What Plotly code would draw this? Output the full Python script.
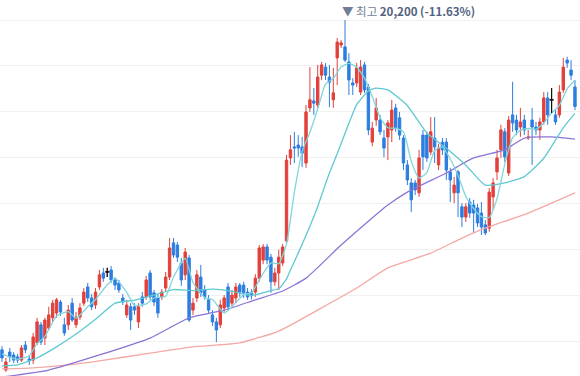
import plotly.graph_objects as go
import pandas as pd

# ---- data ----
day = list(range(1, 149))
open_ = [11230, 10680, 11170, 11090, 11040, 10950, 11360, 10980, 10950, 11420,
         11910, 11550, 11820, 12100, 12230, 12530, 11910, 11910, 12500, 11910,
         12120, 12500, 12940, 12640, 12450, 12940, 13320, 13350, 13400, 13130,
         13050, 12640, 12180, 12400, 12400, 11990, 12670, 12670, 13320, 12780,
         12640, 12670, 12910, 13210, 14140, 14080, 13590, 13270, 13730, 12310,
         12640, 13210, 12860, 12590, 12180, 11990, 11910, 12370, 12940, 12500,
         12640, 12990, 12990, 12800, 12780, 12800, 13180, 13670, 14030, 13750,
         13080, 13320, 13590, 14190, 16450, 16750, 16800, 16750, 16310, 17810,
         18000, 17890, 18700, 18920, 18650, 18030, 19170, 19520, 19470, 19060,
         18490, 18490, 18240, 18980, 18380, 16880, 17480, 17480, 16990, 17020,
         17210, 17810, 17540, 16990, 16260, 15770, 15770, 15500, 17070, 17070,
         16610, 16990, 16260, 16880, 16880, 16070, 15500, 16070, 15120, 14840,
         15250, 15170, 15090, 14950, 14630, 14540, 15390, 16070, 16670, 17160,
         16040, 17620, 17480, 17290, 17480, 16990, 17480, 17290, 17210, 17430,
         18080, 18030, 17620, 17620, 18300, 19110, 18840, 18380]
high = [11330, 11010, 11280, 11170, 11120, 11360, 11470, 11090, 11690, 12100,
        11990, 12100, 12400, 12590, 12640, 12590, 12100, 12450, 12640, 12260,
        12500, 12910, 13050, 12750, 12910, 13400, 13460, 13460, 13510, 13210,
        13130, 12750, 12590, 12500, 12500, 12500, 12800, 13240, 13400, 12860,
        12750, 12880, 13350, 14270, 14270, 14160, 13730, 14000, 13810, 12640,
        13400, 13540, 12990, 12720, 12310, 12100, 12590, 12720, 13050, 12860,
        13050, 13050, 13080, 12910, 12880, 13290, 14080, 14110, 14110, 13840,
        13460, 13950, 14110, 16530, 17070, 17160, 17070, 17020, 17890, 18920,
        18350, 18980, 19060, 19030, 18980, 18900, 19710, 19660, 20200, 19300,
        18620, 19030, 19110, 19060, 18460, 17430, 18080, 17620, 17210, 17480,
        18030, 17920, 17700, 17070, 16390, 15900, 15850, 16670, 17210, 17160,
        17560, 17560, 16830, 16990, 16990, 16180, 15930, 16120, 15220, 15220,
        15360, 15310, 15200, 15250, 14760, 15630, 15900, 16670, 17350, 17260,
        17590, 18520, 17620, 17810, 17620, 17210, 17810, 17430, 17540, 18240,
        18240, 18350, 17750, 18430, 19170, 19200, 19110, 18570]
low = [10900, 10630, 10900, 10870, 10870, 10900, 11140, 10820, 10840, 11360,
       11360, 11360, 11770, 11990, 12100, 12150, 11610, 11770, 11990, 11820,
       12040, 12420, 12530, 12310, 12340, 12860, 13080, 13210, 13050, 12860,
       12780, 12450, 12100, 11770, 12180, 11820, 12400, 12590, 12590, 12420,
       12100, 12590, 12800, 13130, 13730, 13620, 12970, 13130, 11990, 12180,
       12530, 12670, 12590, 12230, 11880, 11440, 11820, 12260, 12310, 12400,
       12500, 12670, 12640, 12590, 12600, 12670, 13080, 13560, 13560, 12780,
       12970, 12860, 13510, 14140, 16260, 16310, 16480, 16200, 16180, 17700,
       17620, 17810, 18570, 18570, 17830, 17810, 18430, 19440, 19060, 18160,
       18160, 18380, 18160, 18220, 17070, 16770, 17320, 17070, 16470, 16390,
       16880, 17160, 16940, 16120, 15710, 14980, 15440, 15390, 16120, 16340,
       16530, 16310, 16120, 16530, 15850, 15250, 15220, 14840, 14570, 14710,
       14820, 14410, 14570, 14350, 14350, 14440, 15030, 15850, 16450, 16340,
       15960, 17160, 17070, 17020, 17070, 16940, 16260, 17070, 16940, 17350,
       17350, 17670, 17350, 17540, 18220, 18900, 18570, 17750]
close = [11010, 10900, 11040, 10950, 10950, 11280, 11230, 10930, 11580, 11990,
         11440, 12040, 12180, 12500, 12590, 12260, 11690, 12310, 12040, 12120,
         12370, 12800, 12640, 12400, 12800, 13270, 13180, 13350, 13130, 12990,
         12860, 12530, 12450, 12040, 12310, 12400, 12500, 13130, 12670, 12530,
         12230, 12800, 13210, 14000, 13810, 13750, 13130, 13890, 12040, 12500,
         13270, 12780, 12670, 12310, 11990, 11770, 12450, 12640, 12400, 12720,
         12940, 12800, 12780, 12670, 12700, 13180, 14000, 14030, 13670, 13080,
         13320, 13750, 14030, 16390, 16670, 16720, 16720, 16580, 17700, 18030,
         17940, 18650, 18980, 18700, 18510, 18220, 19600, 19580, 19110, 18570,
         18430, 18900, 18920, 18300, 17210, 17260, 17810, 17160, 16720, 17400,
         17750, 17260, 17070, 16310, 15850, 15310, 15580, 16450, 16480, 16450,
         17160, 16750, 16720, 16670, 16120, 15850, 15710, 15500, 14840, 15120,
         14950, 14950, 14680, 14570, 14410, 15520, 15770, 16450, 17210, 16480,
         17480, 17400, 17210, 17430, 17210, 17020, 17290, 17210, 17430, 18080,
         17620, 18030, 17430, 18240, 18920, 19030, 18700, 17850]

ma5_day = [1, 3, 5, 8, 10, 12, 15, 18, 20, 23, 25, 28, 30, 33, 35, 38, 40, 43, 45, 48,
           50, 53, 55, 58, 60, 63, 65, 68, 70, 72, 74, 76, 78, 80, 82, 84, 86, 88, 90, 92,
           94, 96, 98, 100, 102, 104, 106, 108, 110, 112, 114, 116, 118, 120, 122, 124,
           126, 128, 130, 132, 134, 136, 138, 140, 142, 144, 146, 148]
ma5 = [11120, 11030, 10970, 11070, 11400, 11590, 12150, 12270, 12090, 12400, 12600,
       13000, 13180, 12790, 12440, 12480, 12640, 12690, 13210, 13720, 13060, 12650,
       12600, 12230, 12400, 12730, 12780, 13310, 13590, 13570, 14110, 15510, 16620,
       17150, 17780, 18460, 18610, 18920, 19020, 18920, 18620, 18120, 17550, 17270,
       17260, 17160, 16360, 15900, 16050, 16650, 16750, 16420, 15970, 15400, 15070,
       14850, 14830, 15340, 16280, 17000, 17200, 17250, 17230, 17400, 17670, 17880,
       18330, 18560]

ma20_day = [1, 5, 10, 15, 20, 25, 30, 35, 40, 45, 50, 55, 60, 65, 70, 72, 74, 75, 77,
            80, 82, 85, 87, 90, 92, 95, 97, 100, 105, 110, 115, 120, 125, 130, 135,
            140, 145, 148]
ma20 = [10790, 10820, 11010, 11310, 11660, 12060, 12500, 12580, 12720, 12870, 12840,
        12880, 12820, 12710, 12840, 12890, 13160, 13400, 13860, 14590, 15130, 16040,
        16560, 17390, 17900, 18270, 18350, 18300, 17870, 17130, 16710, 16250, 15710,
        15770, 15940, 16440, 17270, 17660]

ma60_day = [1, 13, 26, 39, 49, 58, 66, 73, 79, 88, 95, 100, 105, 115, 122, 130, 135,
            142, 148]
ma60 = [10490, 10680, 11090, 11550, 12100, 12310, 12590, 12830, 13180, 14080, 14730,
        15170, 15520, 16040, 16450, 16670, 16990, 17020, 16960]

ma120_day = [1, 9, 18, 26, 39, 50, 62, 72, 83, 92, 100, 111, 119, 125, 136, 148]
ma120 = [10710, 10740, 10820, 10930, 11140, 11310, 11420, 11740, 12370, 12910, 13460,
         13860, 14270, 14540, 14950, 15500]

peak_price = 20200
peak_label = "20,200 (-11.63%)"

# ---- figure ----
df = pd.DataFrame(dict(day=day, open=open_, high=high, low=low, close=close))
flat = df[df.open == df.close]

UP = "#e2403b"
DOWN = "#2c7ee0"

fig = go.Figure()
line_specs = [
    (ma120_day, ma120, "#f3a9a6"),
    (ma60_day, ma60, "#8c74d6"),
    (ma20_day, ma20, "#5fc9d0"),
    (ma5_day, ma5, "#7fd6db"),
]
for xs, ys, col in line_specs:
    fig.add_trace(go.Scatter(x=xs, y=ys, mode="lines",
                             line=dict(color=col, width=1.3, shape="spline", smoothing=0.5),
                             hoverinfo="skip", showlegend=False))

fig.add_trace(go.Candlestick(
    x=df.day, open=df.open, high=df.high, low=df.low, close=df.close,
    increasing=dict(line=dict(color=UP, width=1), fillcolor=UP),
    decreasing=dict(line=dict(color=DOWN, width=1), fillcolor=DOWN),
    whiskerwidth=0, showlegend=False))

# flat (open == close) candles drawn in black
for _, r in flat.iterrows():
    fig.add_trace(go.Scatter(x=[r.day, r.day], y=[r.low, r.high], mode="lines",
                             line=dict(color="#111111", width=1.2),
                             hoverinfo="skip", showlegend=False))
    fig.add_trace(go.Scatter(x=[r.day], y=[r.close], mode="markers",
                             marker=dict(symbol="line-ew", size=3, color="#111111",
                                         line=dict(color="#111111", width=1.5)),
                             hoverinfo="skip", showlegend=False))

peak_day = int(df.loc[df.high.idxmax(), "day"])
fig.add_annotation(
    x=peak_day, y=peak_price, xanchor="left", yanchor="bottom", xshift=-5, yshift=-1,
    showarrow=False,
    text=("<span style='color:#6f7d96'>▼ 최고 </span>"
          f"<b><span style='color:#53627f'>{peak_label}</span></b>"),
    font=dict(family="Noto Sans CJK KR, Noto Sans, sans-serif", size=11.5))

fig.update_layout(
    width=580, height=376, margin=dict(l=0, r=0, t=0, b=0),
    paper_bgcolor="white", plot_bgcolor="white",
    showlegend=False, boxgap=0.12,
    xaxis=dict(range=[0.49, 149.29], showgrid=False, zeroline=False, showticklabels=False,
               ticks="", showline=False, rangeslider=dict(visible=False), fixedrange=True),
    yaxis=dict(range=[10518, 20745], tick0=20200, dtick=1250, showgrid=True,
               gridcolor="#f0f0f0", gridwidth=1, zeroline=False, showticklabels=False,
               ticks="", showline=False, fixedrange=True),
)

fig.write_html("out.html", config={"displayModeBar": False},
               post_script="document.body.style.margin='0px';document.body.style.overflow='hidden';")
